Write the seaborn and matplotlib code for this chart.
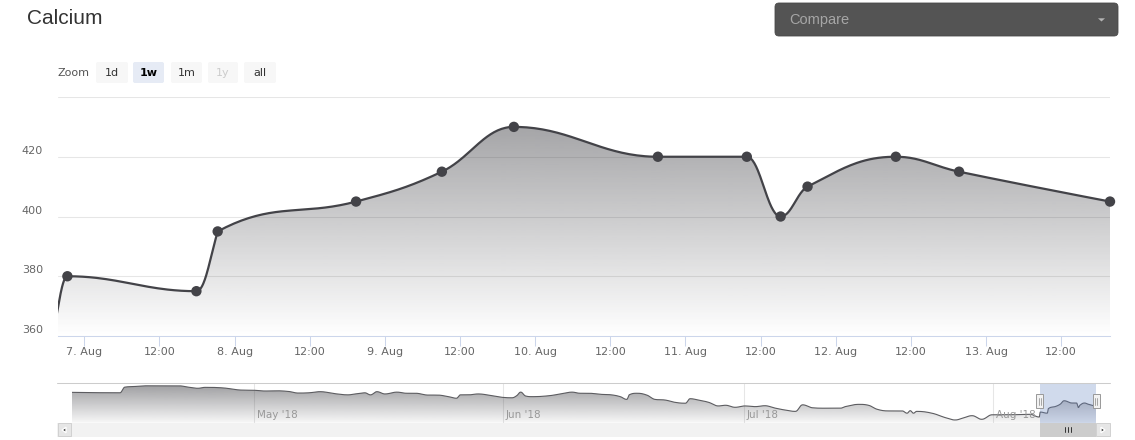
import numpy as np
import matplotlib
matplotlib.use("Agg")
import matplotlib.pyplot as plt
import seaborn as sns
from matplotlib.patches import Polygon, Rectangle, FancyBboxPatch
from matplotlib.transforms import offset_copy

# ---------------- data ----------------
title = "Calcium"
compare_label = "Compare"
zoom_label = "Zoom"
zoom_buttons = ["1d", "1w", "1m", "1y", "all"]
zoom_selected = "1w"
zoom_disabled = "1y"

# main series: hours since 7 Aug 00:00 and values (first two points lie left of the visible range)
main_hours = [-33.6, -5.8, -2.7, 17.9, 21.3, 43.4, 57.1, 68.6, 91.6, 105.8, 111.2, 115.5, 129.6, 139.7, 163.8]
main_values = [370, 358, 380, 375, 395, 405, 415, 430, 420, 420, 400, 410, 420, 415, 405]

x_tick_hours = [0, 12, 24, 36, 48, 60, 72, 84, 96, 108, 120, 132, 144, 156]
x_tick_labels = ["7. Aug", "12:00", "8. Aug", "12:00", "9. Aug", "12:00", "10. Aug",
                 "12:00", "11. Aug", "12:00", "12. Aug", "12:00", "13. Aug", "12:00"]
y_ticks = [360, 380, 400, 420, 440]
y_tick_labels = ["360", "380", "400", "420", ""]
view_hours = 168  # 1w range

# navigator history (days relative to 7 Aug 00:00)
nav_days = [-120.7, -114.7, -114.1, -112.8, -111.5, -107.4, -106.2, -105.0, -104.1, -102.0,
            -99.5, -97.9, -96.6, -95.4, -93.7, -92.5, -91.2, -89.8, -87.9, -86.3,
            -85.4, -84.2, -83.5, -82.7, -81.7, -80.2, -79.0, -77.9, -76.3, -75.2,
            -73.8, -72.8, -72.3, -71.3, -70.1, -68.8, -67.8, -67.1, -65.9, -65.3,
            -64.8, -64.2, -63.4, -61.3, -59.7, -58.4, -57.4, -56.4, -54.7, -53.5,
            -52.4, -51.6, -51.3, -50.3, -49.1, -48.1, -46.8, -45.6, -44.3, -43.7,
            -42.7, -41.4, -40.2, -39.3, -38.1, -36.9, -35.6, -34.4, -33.2, -31.9,
            -30.6, -29.7, -28.5, -26.9, -25.0, -24.4, -22.7, -21.5, -20.4, -19.0,
            -17.3, -16.7, -16.3, -15.9, -15.5, -13.6, -11.9, -10.7, -9.7, -8.6,
            -7.4, -6.1, -4.1]
nav_values = [467, 465, 490, 493, 496, 496, 490, 485, 489, 487,
              477, 476, 473, 474, 471, 464, 465, 470, 461, 456,
              460, 465, 456, 470, 460, 468, 463, 463, 455, 455,
              448, 441, 456, 456, 460, 455, 449, 445, 443, 452,
              468, 451, 448, 452, 461, 468, 463, 463, 458, 456,
              448, 436, 456, 463, 455, 436, 433, 423, 419, 439,
              433, 423, 407, 410, 401, 407, 404, 408, 398, 389,
              383, 412, 399, 397, 397, 404, 414, 410, 392, 385,
              385, 375, 386, 375, 383, 375, 355, 345, 354, 364,
              348, 368, 368]
nav_month_days = [-98, -67, -37, -6]
nav_month_labels = ["May '18", "Jun '18", "Jul '18", "Aug '18"]
nav_ylim = (333, 507)

# ---------------- helpers ----------------
def hc_spline(xs, ys, n=40):
    xs = np.asarray(xs, float)
    ys = np.asarray(ys, float)
    N = len(xs)
    lcx, lcy, rcx, rcy = xs.copy(), ys.copy(), xs.copy(), ys.copy()
    s = 1.5
    d = s + 1
    for i in range(1, N - 1):
        px, py = xs[i], ys[i]
        lx, ly = xs[i - 1], ys[i - 1]
        nx, ny = xs[i + 1], ys[i + 1]
        a_x = (s * px + lx) / d
        a_y = (s * py + ly) / d
        b_x = (s * px + nx) / d
        b_y = (s * py + ny) / d
        if b_x != a_x:
            corr = ((b_y - a_y) * (b_x - px)) / (b_x - a_x) + py - b_y
            a_y += corr
            b_y += corr
            if a_y > ly and a_y > py:
                a_y = max(ly, py); b_y = 2 * py - a_y
            elif a_y < ly and a_y < py:
                a_y = min(ly, py); b_y = 2 * py - a_y
            if b_y > ny and b_y > py:
                b_y = max(ny, py); a_y = 2 * py - b_y
            elif b_y < ny and b_y < py:
                b_y = min(ny, py); a_y = 2 * py - b_y
        lcx[i], lcy[i], rcx[i], rcy[i] = a_x, a_y, b_x, b_y
    t = np.linspace(0, 1, n)[1:]
    X, Y = [xs[0]], [ys[0]]
    for i in range(1, N):
        c = lambda p0, p1, p2, p3: ((1 - t) ** 3 * p0 + 3 * (1 - t) ** 2 * t * p1
                                    + 3 * (1 - t) * t ** 2 * p2 + t ** 3 * p3)
        X.extend(c(xs[i - 1], rcx[i - 1], lcx[i], xs[i]))
        Y.extend(c(ys[i - 1], rcy[i - 1], lcy[i], ys[i]))
    return np.array(X), np.array(Y)


def gradient_fill(ax, x, y, base, top, rgb, a_top, a_bot, zorder=1):
    poly = np.column_stack([np.r_[x[0], x, x[-1]], np.r_[base, y, base]])
    patch = Polygon(poly, closed=True, facecolor="none", edgecolor="none")
    ax.add_patch(patch)
    H = 300
    img = np.zeros((H, 1, 4))
    img[..., :3] = rgb
    img[:, 0, 3] = np.linspace(a_top, a_bot, H)
    im = ax.imshow(img, extent=[x.min(), x.max(), base, top], origin="upper",
                   aspect="auto", zorder=zorder, interpolation="bilinear")
    im.set_clip_path(patch)


# ---------------- figure ----------------
sns.set_theme(style="white")
plt.rcParams["font.family"] = ["DejaVu Sans"]
W, H = 1135, 440
fig = plt.figure(figsize=(W / 100, H / 100), dpi=100)
fig.patch.set_facecolor("white")

series_rgb = np.array([67, 67, 72]) / 255.0
series_color = "#434348"

# main axes
ax = fig.add_axes([58 / W, 1 - 336 / H, 1052 / W, 239 / H])
ax.patch.set_alpha(0)
xs, ys = hc_spline(main_hours, main_values)
gradient_fill(ax, xs, ys, y_ticks[0], max(main_values), series_rgb, 0.48, 0.0, zorder=1)
sns.lineplot(x=xs, y=ys, sort=False, estimator=None, color=series_color,
             linewidth=1.6, ax=ax, zorder=3)
x_right = main_hours[-1]
x_left = x_right - view_hours
vis = [(h, v) for h, v in zip(main_hours, main_values) if h >= x_left]
sns.scatterplot(x=[p[0] for p in vis], y=[p[1] for p in vis], color=series_color,
                s=56, edgecolor="none", linewidth=0, ax=ax, zorder=4, clip_on=False)
ax.set_xlim(x_left, x_right)
ax.set_ylim(y_ticks[0], y_ticks[-1])
ax.set_yticks(y_ticks)
ax.set_yticklabels([])
ax.set_xticks(x_tick_hours)
ax.set_xticklabels(x_tick_labels)
ax.grid(axis="y", color="#e6e6e6", linewidth=0.75, zorder=0)
ax.grid(axis="x", visible=False)
ax.set_axisbelow(True)
for sp in ["left", "right", "top"]:
    ax.spines[sp].set_visible(False)
ax.spines["bottom"].set_color("#ccd6eb")
ax.spines["bottom"].set_linewidth(0.75)
ax.tick_params(axis="x", length=7.2, width=0.75, color="#ccd6eb", labelcolor="#666666",
               labelsize=8, pad=0.5, bottom=True)
ax.tick_params(axis="y", length=0, left=False)
ax.set_xlabel("")
ax.set_ylabel("")
ytr = offset_copy(ax.get_yaxis_transform(), fig=fig, x=-15, y=6, units="dots")
for v, lab in zip(y_ticks, y_tick_labels):
    if lab:
        ax.text(0, v, lab, transform=ytr, ha="right", va="center", fontsize=8, color="#666666")

# navigator axes
ax2 = fig.add_axes([71.7 / W, 1 - 422.7 / H, (1096 - 71.7) / W, (422.7 - 383.3) / H])
ax2.patch.set_alpha(0)
nd = np.array(nav_days + [h / 24 for h in main_hours])
nv = np.array(nav_values + main_values, float)
nxs, nys = hc_spline(nd, nv, n=20)
ax2.vlines(nav_month_days, nav_ylim[0], nav_ylim[1], color="#e6e6e6", linewidth=0.75, zorder=0)
gradient_fill(ax2, nxs, nys, nav_ylim[0], nv.max(), series_rgb, 0.5, 0.04, zorder=1)
sns.lineplot(x=nxs, y=nys, sort=False, estimator=None, color="#5c5c60", linewidth=0.8,
             ax=ax2, zorder=2)
ax2.axvspan(x_left / 24, x_right / 24, color=(102 / 255, 133 / 255, 194 / 255), alpha=0.3,
            linewidth=0, zorder=3)
ax2.set_xlim(nd.min(), nd.max())
ax2.set_ylim(*nav_ylim)
ax2.set_axis_off()
mtr = offset_copy(ax2.get_xaxis_transform(), fig=fig, x=3, y=0, units="dots")
for d, lab in zip(nav_month_days, nav_month_labels):
    ax2.text(d, 0.2, lab, transform=mtr, ha="left", va="center", fontsize=7.5,
             color="#999999", zorder=2)

# UI overlay in pixel units
fig.canvas.draw()
ui = fig.add_axes([0, 0, 1, 1])
ui.set_xlim(0, W)
ui.set_ylim(H, 0)
ui.patch.set_alpha(0)
ui.set_axis_off()

ui.text(27, 19, title, fontsize=15, family=["Liberation Sans", "DejaVu Sans"],
        color="#333333", ha="left", va="center")

# compare dropdown
ui.add_patch(FancyBboxPatch((775, 3), 343, 33, boxstyle="round,pad=0,rounding_size=4",
                            facecolor="#545454", edgecolor="#4a4a4a", linewidth=0.6))
ui.text(789, 20, compare_label, fontsize=10.5, family=["Liberation Sans", "DejaVu Sans"],
        color="#a6a6a6", ha="left", va="center")
ui.add_patch(Polygon([[1098, 18.3], [1105, 18.3], [1101.5, 21.5]], closed=True,
                     facecolor="#b5b5b5", edgecolor="none"))

# zoom buttons
ui.text(58, 72.5, zoom_label, fontsize=8, color="#555555", ha="left", va="center")
btn_x = [96, 133, 171, 208, 244]
btn_w = [32, 31, 31, 30, 32]
for bx, bw, lab in zip(btn_x, btn_w, zoom_buttons):
    sel = lab == zoom_selected
    dis = lab == zoom_disabled
    ui.add_patch(FancyBboxPatch((bx, 62), bw, 21, boxstyle="round,pad=0,rounding_size=2",
                                facecolor="#e6ebf5" if sel else "#f7f7f7", edgecolor="none"))
    ui.text(bx + bw / 2, 72.5, lab, fontsize=8, ha="center", va="center",
            color="#cccccc" if dis else ("#000000" if sel else "#333333"),
            fontweight="bold" if sel else "normal")

# navigator outline and scrollbar
ui.plot([57, 1110], [383.3, 383.3], color="#cccccc", linewidth=0.75)
ui.add_patch(Rectangle((57, 423), 1053, 14, facecolor="#f2f2f2", edgecolor="none"))
ui.add_patch(Rectangle((57.5, 423.5), 13.5, 13, facecolor="#e6e6e6", edgecolor="#cccccc", linewidth=0.6))
ui.add_patch(Rectangle((1096, 423.5), 13.5, 13, facecolor="#e6e6e6", edgecolor="#cccccc", linewidth=0.6))
ui.add_patch(Polygon([[62, 430], [66, 427.3], [66, 432.7]], closed=True, facecolor="#333333"))
ui.add_patch(Polygon([[1105, 430], [1101, 427.3], [1101, 432.7]], closed=True, facecolor="#333333"))

disp = ax2.transData.transform([[x_left / 24, 0], [x_right / 24, 0]])
hx0 = disp[0, 0]
hx1 = disp[1, 0]
ui.add_patch(Rectangle((hx0, 423), hx1 - hx0, 14, facecolor="#cccccc", edgecolor="none"))
cx = (hx0 + hx1) / 2
for off in (-3, 0, 3):
    ui.plot([cx + off, cx + off], [427.5, 432.5], color="#333333", linewidth=0.7)
for hx in (hx0, hx1):
    ui.add_patch(Rectangle((hx - 3.5, 394.5), 7, 14, facecolor="#f2f2f2", edgecolor="#999999", linewidth=0.7))
    for off in (-1.2, 1.2):
        ui.plot([hx + off, hx + off], [398, 405], color="#999999", linewidth=0.6)

fig.savefig("out.png", dpi=100, facecolor="white")
